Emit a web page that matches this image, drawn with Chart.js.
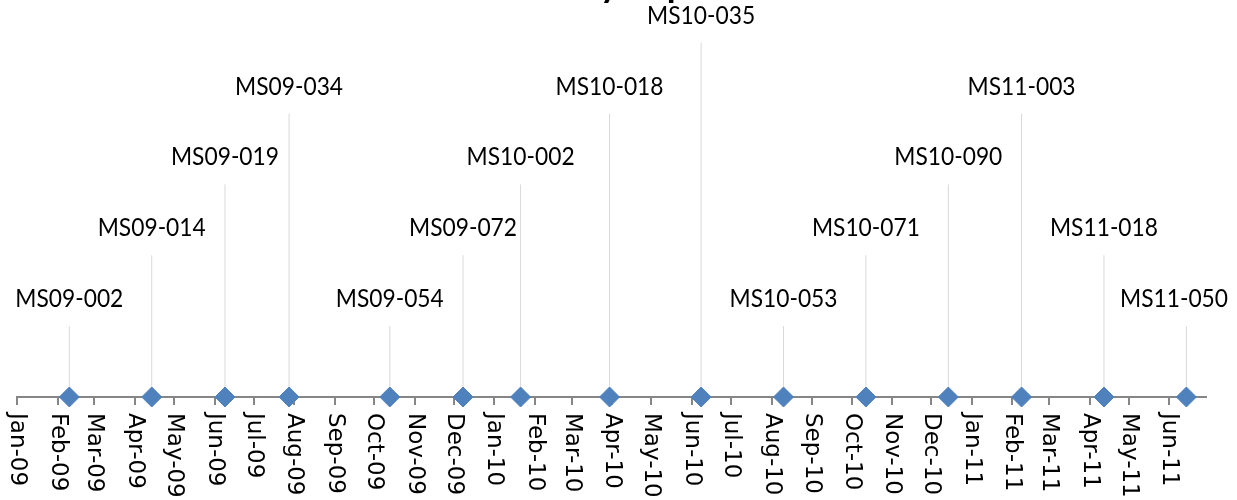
<!DOCTYPE html>
<html>
<head>
<meta charset="utf-8">
<script src="https://cdn.jsdelivr.net/npm/chart.js@4.4.1/dist/chart.umd.min.js"></script>
<style>
  html, body { margin: 0; padding: 0; background: #fff; overflow: hidden; }
  #wrap { position: relative; width: 1237px; height: 500px; overflow: hidden; }
  #chart { position: absolute; left: 0; top: -61px; }
</style>
</head>
<body>
<div id="wrap"><canvas id="chart" width="1237" height="561"></canvas></div>
<script>
// Bulletins, release dates and label level (height of the leader line)
const bulletins = ["MS09-002", "MS09-014", "MS09-019", "MS09-034", "MS09-054", "MS09-072", "MS10-002", "MS10-018",
  "MS10-035", "MS10-053", "MS10-071", "MS10-090", "MS11-003", "MS11-018", "MS11-050"]
const releaseDates = ["2009-02-10", "2009-04-14", "2009-06-09", "2009-07-28", "2009-10-13", "2009-12-08", "2010-01-21", "2010-03-30",
  "2010-06-08", "2010-08-10", "2010-10-12", "2010-12-14", "2011-02-08", "2011-04-12", "2011-06-14"]
const levels = [1, 2, 3, 4, 1, 2, 3, 4, 5, 1, 2, 3, 4, 2, 1]

// Month tick labels on the date axis
const monthLabels = ["Jan-09", "Feb-09", "Mar-09", "Apr-09", "May-09", "Jun-09", "Jul-09", "Aug-09", "Sep-09", "Oct-09", "Nov-09", "Dec-09",
  "Jan-10", "Feb-10", "Mar-10", "Apr-10", "May-10", "Jun-10", "Jul-10", "Aug-10", "Sep-10", "Oct-10", "Nov-10", "Dec-10",
  "Jan-11", "Feb-11", "Mar-11", "Apr-11", "May-11", "Jun-11"]
const axisStart = "2009-01-01"
const axisEnd = "2011-06-29"

const chartTitle = "Zero-Day Exploits"

const MONTHS = ["Jan", "Feb", "Mar", "Apr", "May", "Jun", "Jul", "Aug", "Sep", "Oct", "Nov", "Dec"]
const dayMs = 86400000
function toDays(iso) {
  const [y, m, d] = iso.split("-").map(Number)
  const [y0, m0, d0] = axisStart.split("-").map(Number)
  return Math.round((Date.UTC(y, m - 1, d) - Date.UTC(y0, m0 - 1, d0)) / dayMs)
}
function labelToDays(lbl) {
  const [mon, yy] = lbl.split("-")
  const mm = String(MONTHS.indexOf(mon) + 1).padStart(2, "0")
  return toDays("20" + yy + "-" + mm + "-01")
}

const bulletinDays = releaseDates.map(toDays)
const tickDays = monthLabels.map(labelToDays)

// leader lines: one segment per bulletin, separated by gaps
const leaderData = []
bulletinDays.forEach((d, i) => {
  leaderData.push({ x: d, y: 0 }, { x: d, y: levels[i] }, { x: d, y: null })
})

const labelFont = "25px Lato, 'Open Sans', sans-serif"
const tickFont = "23px 'DejaVu Sans', Verdana, sans-serif"

// data labels above each leader line (narrow, like the original)
const bulletinLabels = {
  id: "bulletinLabels",
  afterDatasetsDraw(chart) {
    const { ctx, scales } = chart
    ctx.save()
    ctx.font = labelFont
    ctx.fillStyle = "#000"
    ctx.textAlign = "center"
    ctx.textBaseline = "middle"
    const sx = 108 / ctx.measureText("MS09-002").width
    bulletins.forEach((name, i) => {
      const w = ctx.measureText(name).width * sx
      let x = scales.x.getPixelForValue(bulletinDays[i])
      x = Math.min(x, chart.width - 9 - w / 2)
      const y = scales.y.getPixelForValue(levels[i]) - 27
      ctx.save()
      ctx.translate(x, y)
      ctx.scale(sx, 1)
      ctx.fillText(name, 0, 0)
      ctx.restore()
    })
    ctx.restore()
  },
}

// month labels, rotated to read top to bottom
const monthTickLabels = {
  id: "monthTickLabels",
  afterDraw(chart) {
    const { ctx, scales, chartArea } = chart
    ctx.save()
    ctx.font = tickFont
    ctx.fillStyle = "#000"
    ctx.textAlign = "left"
    ctx.textBaseline = "middle"
    monthLabels.forEach((lbl, i) => {
      const x = scales.x.getPixelForValue(tickDays[i])
      ctx.save()
      ctx.translate(x, chartArea.bottom + 16)
      ctx.rotate(Math.PI / 2)
      ctx.fillText(lbl, 0, 0)
      ctx.restore()
    })
    ctx.restore()
  },
}

new Chart(document.getElementById("chart"), {
  type: "scatter",
  data: {
    datasets: [
      {
        label: "Release",
        data: bulletinDays.map((d) => ({ x: d, y: 0 })),
        pointStyle: "rectRot",
        pointRadius: 10,
        pointHoverRadius: 10,
        backgroundColor: "#4f81bd",
        borderColor: "#4f81bd",
        borderWidth: 1,
        clip: false,
      },
      {
        type: "line",
        label: "Leader",
        data: leaderData,
        borderColor: "#d9d9d9",
        borderWidth: 1,
        pointRadius: 0,
        spanGaps: false,
        clip: false,
      },
    ],
  },
  options: {
    responsive: false,
    animation: false,
    devicePixelRatio: 1,
    layout: { padding: { left: 17, right: 31, top: 0, bottom: 95 } },
    plugins: {
      legend: { display: false },
      tooltip: { enabled: false },
      title: {
        display: true,
        text: chartTitle,
        color: "#000",
        font: { family: "Lato, 'Open Sans', sans-serif", size: 36, weight: "bold", lineHeight: 1.2 },
        padding: { top: 25, bottom: 0 },
      },
    },
    scales: {
      x: {
        type: "linear",
        min: 0,
        max: toDays(axisEnd),
        afterBuildTicks: (scale) => {
          scale.ticks = tickDays.map((v) => ({ value: v }))
        },
        ticks: { display: false },
        grid: { drawOnChartArea: false, drawTicks: true, tickLength: 8, color: "#868686", lineWidth: 2 },
        border: { display: true, color: "#868686", width: 2 },
      },
      y: {
        display: false,
        min: 0,
        max: 5.5,
      },
    },
  },
  plugins: [bulletinLabels, monthTickLabels],
})
</script>
</body>
</html>
